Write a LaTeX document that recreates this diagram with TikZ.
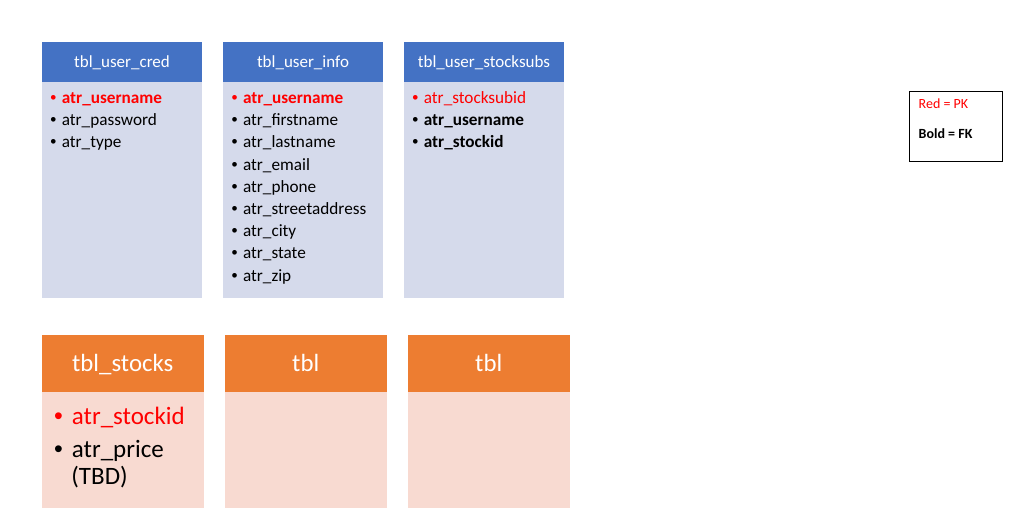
\documentclass[tikz,border=0pt]{standalone}
\usepackage{fontspec}
\setmainfont{Carlito}
\newfontfamily\bulletfont{Liberation Sans}
\definecolor{bluehead}{HTML}{4472C4}
\definecolor{bluebody}{HTML}{D5DAEB}
\definecolor{orangehead}{HTML}{ED7D31}
\definecolor{orangebody}{HTML}{F8DAD1}
\definecolor{pkred}{HTML}{FF0000}
\newcommand{\bl}[2]{\makebox[0pt][c]{\bulletfont\mdseries •}\hspace{#1}#2}
\begin{document}
\begin{tikzpicture}[x=1pt,y=-1pt,
  tblhead/.style={anchor=north west,inner sep=0pt,outer sep=0pt,text=white,minimum width=160pt,minimum height=40pt,text depth=0pt,text height=10.9pt,font=\fontsize{17}{20}\selectfont},
  tblbody/.style={anchor=north west,inner sep=0pt,outer sep=0pt,minimum width=160pt,minimum height=216pt},
  bighead/.style={anchor=north west,inner sep=0pt,outer sep=0pt,text=white,minimum width=161.5pt,minimum height=56.5pt,text depth=0pt,text height=15.9pt,font=\fontsize{24.8}{28}\selectfont,fill=orangehead},
  bigbody/.style={anchor=north west,inner sep=0pt,outer sep=0pt,minimum width=161.5pt,minimum height=116pt,fill=orangebody},
  attr/.style={anchor=base west,inner sep=0pt,font=\fontsize{17.2}{20}\selectfont},
  bigattr/.style={anchor=base west,inner sep=0pt,font=\fontsize{25}{28}\selectfont},
  legtext/.style={anchor=base west,inner sep=0pt,font=\fontsize{14}{16}\selectfont},
  legbox/.style={draw=black,line width=1pt,anchor=north west,inner sep=0pt,minimum width=93pt,minimum height=70pt}
]
\useasboundingbox (0,0) rectangle (1021,517);
% top row
\node[tblhead,fill=bluehead] (h1) at (42,42) {tbl\_user\_cred};
\node[tblbody,fill=bluebody] (b1) at (42,82) {};
\node[tblhead,fill=bluehead] (h2) at (223,42) {tbl\_user\_info};
\node[tblbody,fill=bluebody] (b2) at (223,82) {};
\node[tblhead,fill=bluehead] (h3) at (404,42) {tbl\_user\_stocksubs};
\node[tblbody,fill=bluebody] (b3) at (404,82) {};
% attributes box 1
\node[attr,text=pkred] (a11) at (53.3,103.5) {\bfseries\bl{8.4pt}{atr\_username}};
\node[attr] (a12) at (53.3,125.7) {\bl{8.4pt}{atr\_password}};
\node[attr] (a13) at (53.3,147.9) {\bl{8.4pt}{atr\_type}};
% attributes box 2
\node[attr,text=pkred] (a21) at (234.5,103.5) {\bfseries\bl{8.4pt}{atr\_username}};
\node[attr] (a22) at (234.5,125.7) {\bl{8.4pt}{atr\_firstname}};
\node[attr] (a23) at (234.5,147.9) {\bl{8.4pt}{atr\_lastname}};
\node[attr] (a24) at (234.5,170.1) {\bl{8.4pt}{atr\_email}};
\node[attr] (a25) at (234.5,192.3) {\bl{8.4pt}{atr\_phone}};
\node[attr] (a26) at (234.5,214.5) {\bl{8.4pt}{atr\_streetaddress}};
\node[attr] (a27) at (234.5,236.7) {\bl{8.4pt}{atr\_city}};
\node[attr] (a28) at (234.5,258.9) {\bl{8.4pt}{atr\_state}};
\node[attr] (a29) at (234.5,281.1) {\bl{8.4pt}{atr\_zip}};
% attributes box 3
\node[attr,text=pkred] (a31) at (415.3,103.5) {\bl{8.4pt}{atr\_stocksubid}};
\node[attr] (a32) at (415.3,125.7) {\bfseries\bl{8.4pt}{atr\_username}};
\node[attr] (a33) at (415.3,147.9) {\bfseries\bl{8.4pt}{atr\_stockid}};
% bottom row
\node[bighead] (h4) at (42,335) {tbl\_stocks};
\node[bigbody] (b4) at (42,391.5) {};
\node[bighead] (h5) at (225,335) {tbl};
\node[bigbody] (b5) at (225,391.5) {};
\node[bighead] (h6) at (408,335) {tbl};
\node[bigbody] (b6) at (408,391.5) {};
\node[bigattr,text=pkred] (a41) at (58.3,424.8) {\bl{13.4pt}{atr\_stockid}};
\node[bigattr] (a42) at (58.3,457.2) {\bl{13.4pt}{atr\_price}};
\node[bigattr] (a43) at (71.2,484.5) {(TBD)};
% legend
\node[legbox] (leg) at (908.5,91) {};
\node[legtext,text=pkred] (l1) at (918.5,108.7) {Red = PK};
\node[legtext] (l2) at (918.5,138.7) {\bfseries Bold = FK};
\end{tikzpicture}
\end{document}
